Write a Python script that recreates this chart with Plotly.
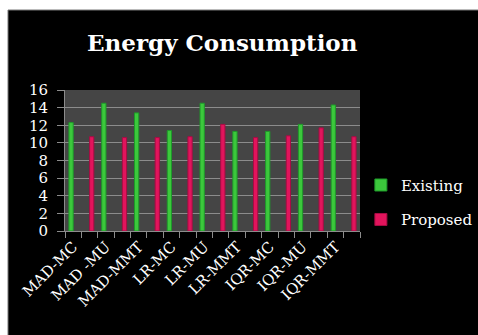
import plotly.graph_objects as go

# ---- data ----
labels = ["MAD-MC", "MAD -MU", "MAD-MMT", "LR-MC", "LR-MU", "LR-MMT",
          "IQR-MC", "IQR-MU", "IQR-MMT"]
existing = [12.3, 14.5, 13.4, 11.4, 14.5, 11.3, 11.3, 12.1, 14.3]
proposed = [10.7, 10.6, 10.6, 10.7, 12.1, 10.6, 10.8, 11.7, 10.7]
y_ticks = [0, 2, 4, 6, 8, 10, 12, 14, 16]

# each label has its own slot (Existing) followed by an unlabeled slot (Proposed)
slots, slot_text, ex_vals, pr_vals = [], [], [], []
for lab, e, p in zip(labels, existing, proposed):
    slots += [lab, lab + " "]
    slot_text += [lab, ""]
    ex_vals += [e, None]
    pr_vals += [None, p]

W, H = 478, 335
ML, MR, MT, MB = 65, 118, 90, 104
pw, ph = W - ML - MR, H - MT - MB

fig = go.Figure()
fig.add_trace(go.Bar(name="Existing", x=slots, y=ex_vals, legendgroup="a",
                     marker=dict(color="#3cc83c", line=dict(color="#1e9a2a", width=1))))
fig.add_trace(go.Bar(name="Proposed", x=slots, y=pr_vals, legendgroup="b",
                     marker=dict(color="#e2145c", line=dict(color="#a80c44", width=1))))

serif = "DejaVu Serif"
fig.update_layout(
    width=W, height=H,
    margin=dict(l=ML, r=MR, t=MT, b=MB, pad=0, autoexpand=False),
    paper_bgcolor="white",
    plot_bgcolor="rgba(0,0,0,0)",
    barmode="group", bargap=0.48, bargroupgap=0,
    font=dict(family=serif, color="white", size=14),
    title=dict(text="<b>Energy Consumption</b>", x=0.465, xref="container", xanchor="center",
               y=1 - 43 / H, yanchor="middle", font=dict(family=serif, size=23, color="white")),
    legend=dict(x=1.003, xanchor="left", y=0.204, yanchor="middle",
                font=dict(family=serif, size=15, color="white"),
                bgcolor="rgba(0,0,0,0)", tracegroupgap=12, itemwidth=30),
    shapes=[
        dict(type="rect", xref="paper", yref="paper", layer="below",
             x0=(8 - ML) / pw, x1=(W + 5 - ML) / pw,
             y0=-(MB + 5) / ph, y1=(ph + MT - 10) / ph,
             fillcolor="black", line=dict(color="#777777", width=1)),
        dict(type="rect", xref="paper", yref="paper", layer="below",
             x0=0, x1=1, y0=0, y1=1, fillcolor="#454545", line=dict(width=0)),
    ],
)
fig.update_xaxes(type="category", tickvals=slots, ticktext=slot_text, tickson="boundaries",
                 ticks="outside", ticklen=6, tickcolor="#8c8c8c", tickangle=-45,
                 showgrid=False, showline=True, linecolor="#8c8c8c", linewidth=1,
                 automargin=False,
                 tickfont=dict(family=serif, size=15, color="white"))
fig.update_yaxes(range=[0, 16], tickvals=y_ticks, ticks="outside", ticklen=7,
                 tickcolor="#8c8c8c", gridcolor="#8c8c8c", gridwidth=1,
                 showline=True, linecolor="#8c8c8c", zeroline=False,
                 ticklabelstandoff=6, automargin=False,
                 tickfont=dict(family=serif, size=15, color="white"))

fig.write_html("out.html")
